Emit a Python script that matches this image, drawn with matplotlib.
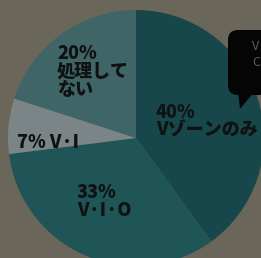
import matplotlib
matplotlib.use("Agg")
import matplotlib.pyplot as plt
from matplotlib.patches import FancyBboxPatch, Polygon

plt.rcParams['font.family'] = ['Noto Sans CJK JP', 'DejaVu Sans']

# Data
labels = ["40%\nVゾーンのみ", "33%\nV·I·O", "7% V·I", "20%\n処理して\nない"]
values = [40, 33, 7, 20]
colors = ["#17474a", "#1f5556", "#7b8587", "#3f6567"]

W, H = 261, 258
fig = plt.figure(figsize=(W / 100, H / 100), dpi=100)
fig.patch.set_facecolor("#6b665a")
ax = fig.add_axes([0, 0, 1, 1])

cx, cy, r = 136, H - 138, 128
ax.pie(values, colors=colors, startangle=90, counterclock=False,
       center=(cx, cy), radius=r, frame=True,
       wedgeprops=dict(linewidth=0))
ax.set_xlim(0, W)
ax.set_ylim(0, H)
ax.set_aspect("auto")
ax.axis("off")

# label positions (pixel coords from top-left)
pos = [(156, 103), (77, 183), (17, 133), (57, 44)]
for lab, (x, y) in zip(labels, pos):
    ax.text(x, H - y, lab, ha="left", va="top", fontsize=13,
            fontweight="black", color="#101212", linespacing=0.92)

# speech bubble
bub = FancyBboxPatch((228, H - 95), 60, 65, boxstyle="round,pad=0,rounding_size=10",
                     facecolor="#050505", edgecolor="none", zorder=5)
ax.add_patch(bub)
ax.add_patch(Polygon([(238, H - 92), (254, H - 92), (240, H - 109)],
                     closed=True, facecolor="#050505", edgecolor="none", zorder=5))
ax.text(252, H - 40, "V\nC", ha="left", va="top", fontsize=9,
        color="#5e5e5e", zorder=6, linespacing=1.3)

fig.savefig("out.png", dpi=100, facecolor=fig.get_facecolor())
